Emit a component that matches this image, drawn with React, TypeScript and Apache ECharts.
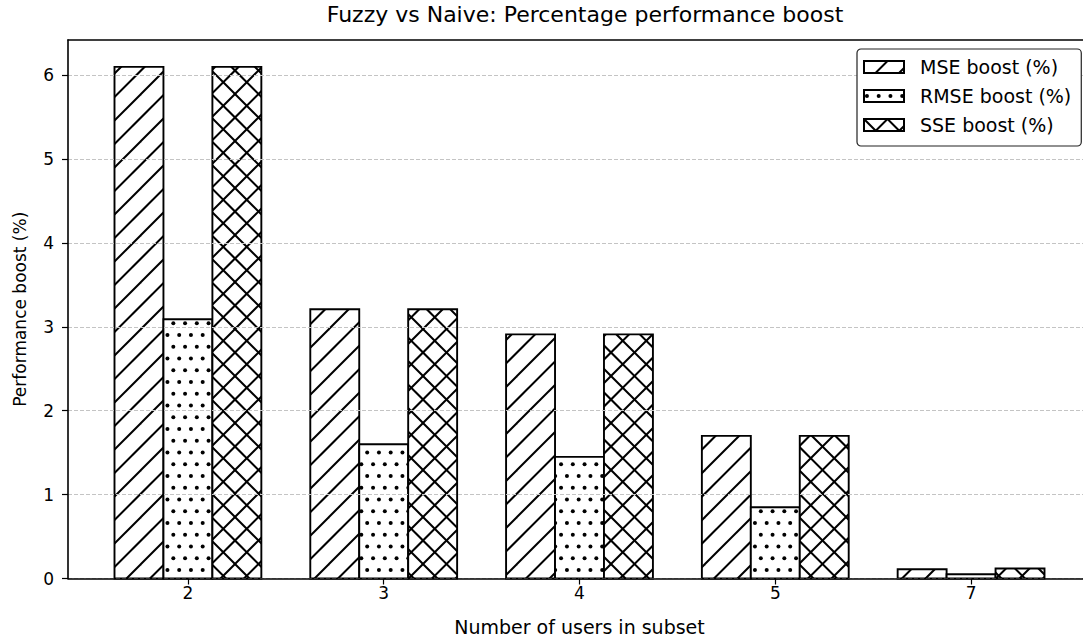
import React, { useEffect, useRef } from 'react';
import * as echarts from 'echarts';

const categories = ['2', '3', '4', '5', '7'];
const mseBoost = [6.10, 3.21, 2.91, 1.70, 0.11];
const rmseBoost = [3.09, 1.60, 1.45, 0.85, 0.05];
const sseBoost = [6.10, 3.21, 2.91, 1.70, 0.12];
const yTicks = [0, 1, 2, 3, 4, 5, 6];
const seriesNames = ['MSE boost (%)', 'RMSE boost (%)', 'SSE boost (%)'];

const TILE = 47;
const PERIOD = 23.5;

function makeTile(kind: string) {
  const c = document.createElement('canvas');
  c.width = TILE;
  c.height = TILE;
  const ctx = c.getContext('2d') as CanvasRenderingContext2D;
  ctx.fillStyle = '#ffffff';
  ctx.fillRect(0, 0, TILE, TILE);
  ctx.strokeStyle = '#000000';
  ctx.fillStyle = '#000000';
  ctx.lineWidth = 2;
  if (kind === 'diag' || kind === 'cross') {
    for (let k = -2; k <= 2; k++) {
      const o = k * PERIOD;
      ctx.beginPath();
      ctx.moveTo(o - 10, TILE + 10);
      ctx.lineTo(o + TILE + 10, -10);
      ctx.stroke();
    }
  }
  if (kind === 'cross') {
    for (let k = -2; k <= 2; k++) {
      const o = k * PERIOD;
      ctx.beginPath();
      ctx.moveTo(o - 10, -10);
      ctx.lineTo(o + TILE + 10, TILE + 10);
      ctx.stroke();
    }
  }
  if (kind === 'dots') {
    const step = PERIOD / 2;
    for (let r = 0; r < 4; r++) {
      const y = step / 2 + r * step;
      const off = (r % 2) * (step / 2) + step / 4;
      for (let col = 0; col < 4; col++) {
        const x = off + col * step;
        ctx.beginPath();
        ctx.arc(x, y, 2, 0, Math.PI * 2);
        ctx.fill();
      }
    }
  }
  return { image: c, repeat: 'repeat', imageWidth: TILE, imageHeight: TILE } as any;
}

export default function App() {
  const ref = useRef<HTMLDivElement>(null);
  useEffect(() => {
    if (!ref.current) return;
    const chart = echarts.init(ref.current, null, { renderer: 'svg' });
    const patterns = [makeTile('diag'), makeTile('dots'), makeTile('cross')];
    const values = [mseBoost, rmseBoost, sseBoost];
    const offsets = [-0.25, 0, 0.25];
    const barW = 0.25;
    const font = 'DejaVu Sans';

    const series = values.map((vals, si) => ({
      type: 'custom',
      name: seriesNames[si],
      z: 2,
      itemStyle: { color: patterns[si], borderColor: '#000', borderWidth: 1.5 },
      data: vals.map((v, i) => [i, v]),
      renderItem: (params: any, api: any) => {
        const xi = api.value(0);
        const v = api.value(1);
        const p0 = api.coord([xi + offsets[si] - barW / 2, v]);
        const p1 = api.coord([xi + offsets[si] + barW / 2, 0]);
        return {
          type: 'rect',
          shape: { x: p0[0], y: p0[1], width: p1[0] - p0[0], height: p1[1] - p0[1] },
          style: { fill: patterns[si], stroke: '#000', lineWidth: 1.9 },
        };
      },
    }));

    chart.setOption({
      animation: false,
      backgroundColor: '#ffffff',
      title: {
        text: 'Fuzzy vs Naive: Percentage performance boost',
        left: 580,
        textAlign: 'center',
        top: -2,
        textStyle: { fontFamily: font, fontSize: 22, fontWeight: 'normal', color: '#000' },
      },
      grid: {
        left: 68,
        top: 40,
        width: 1023,
        height: 538.5,
        containLabel: false,
        outerBoundsMode: 'none',
      },
      legend: {
        orient: 'vertical',
        left: 857,
        top: 49,
        padding: [8, 10, 11, 6],
        itemWidth: 40,
        itemHeight: 12,
        itemGap: 9,
        icon: 'rect',
        backgroundColor: '#ffffff',
        borderColor: '#222',
        borderWidth: 1.2,
        borderRadius: 4,
        textStyle: { fontFamily: font, fontSize: 19, lineHeight: 20, color: '#000', padding: [0, 0, 0, 11] },
        data: seriesNames,
      },
      xAxis: [
        {
          type: 'value',
          min: -0.6125,
          max: 4.6125,
          z: 4,
          name: 'Number of users in subset',
          nameLocation: 'middle',
          nameGap: 39,
          nameTextStyle: { fontFamily: font, fontSize: 19, color: '#000' },
          axisLine: { show: true, onZero: false, lineStyle: { color: '#000', width: 1.6 } },
          axisTick: { show: true, length: 6, customValues: [0, 1, 2, 3, 4], lineStyle: { color: '#000', width: 1.2 } },
          axisLabel: {
            customValues: [0, 1, 2, 3, 4],
            formatter: (v: number) => categories[Math.round(v)] ?? '',
            fontFamily: font,
            fontSize: 17,
            color: '#000',
            margin: 6,
          },
          splitLine: { show: false },
        },
        {
          type: 'value',
          position: 'top',
          min: -0.6125,
          max: 4.6125,
          z: 4,
          axisLine: { show: true, onZero: false, lineStyle: { color: '#000', width: 1.6 } },
          axisTick: { show: false },
          axisLabel: { show: false },
          splitLine: { show: false },
        },
      ],
      yAxis: {
        type: 'value',
        min: 0,
        max: 6.42,
        interval: 1,
        z: 3,
        name: 'Performance boost (%)',
        nameLocation: 'middle',
        nameGap: 40,
        nameTextStyle: { fontFamily: font, fontSize: 17, color: '#000' },
        axisLine: { show: true, onZero: false, lineStyle: { color: '#000', width: 1.6 } },
        axisTick: { show: true, length: 6, customValues: yTicks, lineStyle: { color: '#000', width: 1.2 } },
        axisLabel: {
          customValues: yTicks,
          fontFamily: font,
          fontSize: 17,
          color: '#000',
          margin: 14,
        },
        splitLine: { show: true, lineStyle: { color: '#c4c4c4', type: [4, 2], width: 1 } },
      },
      series,
    } as any);
    return () => chart.dispose();
  }, []);
  return (
    <div
      ref={ref}
      style={{ position: 'absolute', left: 0, top: 0, width: 1083, height: 641, overflow: 'hidden' }}
    />
  );
}
